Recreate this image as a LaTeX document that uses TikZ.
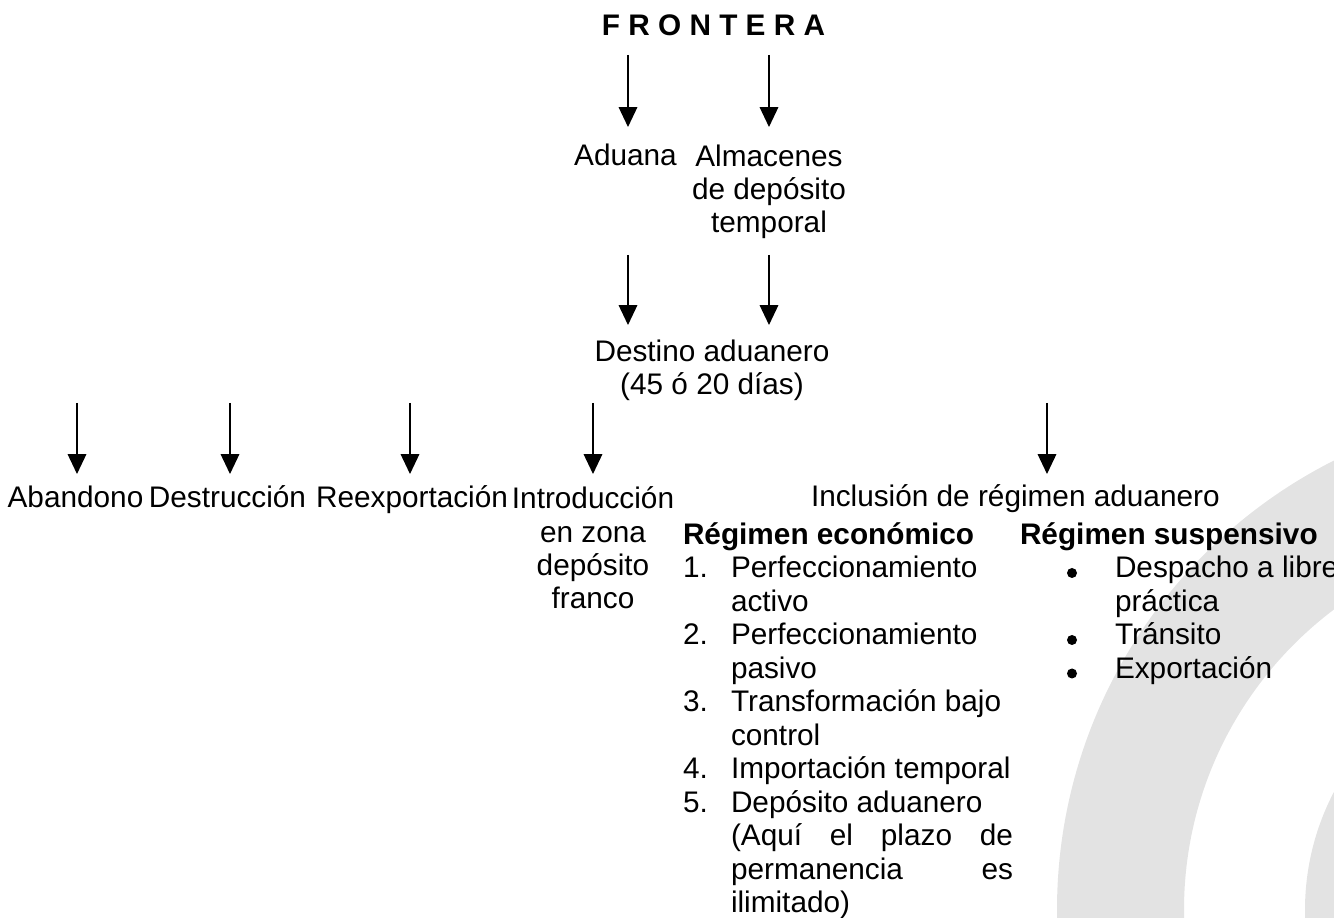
\documentclass[tikz,border=0pt]{standalone}
\usepackage{fontspec}
\setmainfont{Liberation Sans}
\usetikzlibrary{arrows.meta}
\definecolor{wmgray}{RGB}{227,227,227}
\begin{document}
\begin{tikzpicture}[x=0.4032pt,y=-0.4032pt,
  txt/.style={inner sep=0pt,outer sep=0pt,font=\fontsize{12}{13.5}\selectfont},
  bold/.style={txt,font=\fontsize{12}{13.5}\selectfont\bfseries},
  arr/.style={line width=0.5pt,-{Triangle[length=8pt,width=7.5pt]}},
  dot/.style={fill=black}]
\useasboundingbox (0,0) rectangle (1334,918);
% watermark arcs
\begin{scope}
\clip (0,0) rectangle (1334,918);
\fill[wmgray,even odd rule] (1560,910) circle (503) (1560,910) circle (376);
\fill[wmgray,even odd rule] (1560,910) circle (255) (1560,910) circle (130);
\end{scope}
% top (multi-line nodes: base anchor = baseline of last line)
\node[bold,anchor=base] (frontera) at (713.5,36) {F R O N T E R A};
\node[txt,anchor=base] (aduana) at (625.5,166) {Aduana};
\node[txt,anchor=base,align=center] (almacenes) at (769,233) {Almacenes\\de depósito\\temporal};
\node[txt,anchor=base,align=center] (destino) at (712,394.5) {Destino aduanero\\(45 ó 20 días)};
% row
\node[txt,anchor=base] (abandono) at (75.5,508) {Abandono};
\node[txt,anchor=base] (destruccion) at (227.5,508) {Destrucción};
\node[txt,anchor=base] (reexp) at (412,508) {Reexportación};
\node[txt,anchor=base,align=center] (intro) at (593,609) {Introducción\\en zona\\depósito\\franco};
\node[txt,anchor=base west] (inclusion) at (811,507) {Inclusión de régimen aduanero};
% regimen economico
\node[bold,anchor=base west] (econ) at (683,545) {Régimen económico};
\node[txt,anchor=base west] (n1) at (683,578) {1.};
\node[txt,anchor=base west] (n2) at (683,645) {2.};
\node[txt,anchor=base west] (n3) at (683,712) {3.};
\node[txt,anchor=base west] (n4) at (683,779) {4.};
\node[txt,anchor=base west] (n5) at (683,812.5) {5.};
\node[txt,anchor=base west,align=left] (econlist) at (731,912.8) {Perfeccionamiento\\activo\\Perfeccionamiento\\pasivo\\Transformación bajo\\control\\Importación temporal\\Depósito aduanero\\\makebox[113.7pt][s]{(Aquí el plazo de}\\\makebox[113.7pt][s]{permanencia es}\\ilimitado)};
% regimen suspensivo
\node[bold,anchor=base west] (susp) at (1020,545) {Régimen suspensivo};
\fill[dot] (1072,573) circle (5);
\fill[dot] (1072,640) circle (5);
\fill[dot] (1072,673.5) circle (5);
\node[txt,anchor=base west,align=left] (susplist) at (1115,678.4) {Despacho a libre\\práctica\\Tránsito\\Exportación};
% arrow coordinates
\coordinate (a1s) at (628,55);  \coordinate (a1e) at (628,127);
\coordinate (a2s) at (769,55);  \coordinate (a2e) at (769,127);
\coordinate (b1s) at (628,255); \coordinate (b1e) at (628,325);
\coordinate (b2s) at (769,255); \coordinate (b2e) at (769,325);
\coordinate (c1s) at (77,403);  \coordinate (c1e) at (77,474);
\coordinate (c2s) at (230,403); \coordinate (c2e) at (230,474);
\coordinate (c3s) at (410,403); \coordinate (c3e) at (410,474);
\coordinate (c4s) at (593,403); \coordinate (c4e) at (593,474);
\coordinate (c5s) at (1047,403); \coordinate (c5e) at (1047,474);
\foreach \p in {a1,a2,b1,b2,c1,c2,c3,c4,c5}{\draw[arr] (\p s) -- (\p e);}
\end{tikzpicture}
\end{document}
